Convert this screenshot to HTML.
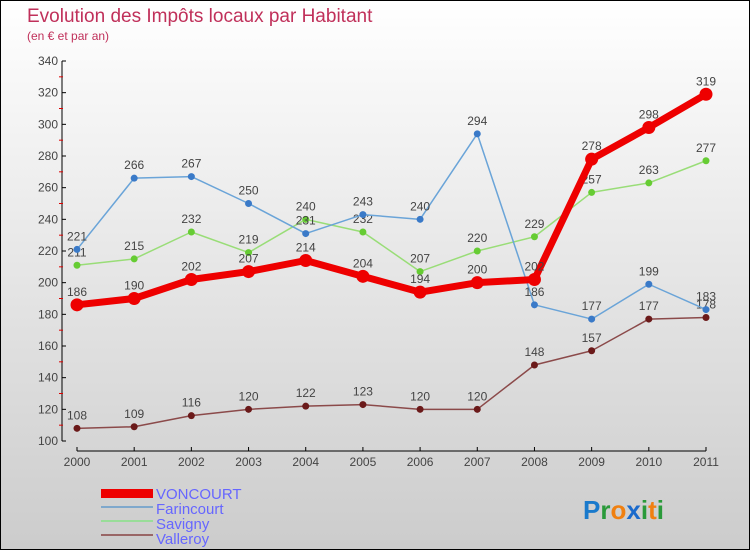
<!DOCTYPE html>
<html><head><meta charset="utf-8"><style>
body{margin:0;}
#c{width:748px;height:548px;border:1px solid #000;background:linear-gradient(#fff,#ccc);position:relative;overflow:hidden;font-family:"Liberation Sans",sans-serif;}
</style></head><body>
<div id="c">
<svg id="s" width="748" height="548" style="position:absolute;left:0;top:0">
<text x="26" y="21" font-size="19" fill="#c0305a">Evolution des Impôts locaux par Habitant</text>
<text x="26" y="39" font-size="12" fill="#c0305a">(en € et par an)</text>
<g id="axes"></g><g id="series"></g>
<g>
<rect x="100" y="488" width="52" height="9" fill="#e00"/>
<text x="155" y="498" font-size="15" fill="#66f">VONCOURT</text>
<rect x="100" y="505" width="52" height="2" fill="#7fa8cc"/>
<text x="155" y="513" font-size="15" fill="#66f">Farincourt</text>
<rect x="100" y="519" width="52" height="2" fill="#9d9"/>
<text x="155" y="528" font-size="15" fill="#66f">Savigny</text>
<rect x="100" y="533" width="52" height="2" fill="#966"/>
<text x="155" y="543" font-size="15" fill="#66f">Valleroy</text>
</g>
<text x="582" y="518" font-size="26" font-weight="bold"><tspan fill="#1a7acc">P</tspan><tspan fill="#2a9a3a">r</tspan><tspan fill="#f08010">o</tspan><tspan fill="#1a6acc">x</tspan><tspan fill="#2a9a3a">i</tspan><tspan fill="#f08010">t</tspan><tspan fill="#2a9a3a">i</tspan></text>
</svg>
</div>
<script>
const years=[2000,2001,2002,2003,2004,2005,2006,2007,2008,2009,2010,2011];
const voncourt=[186,190,202,207,214,204,194,200,202,278,298,319];
const farincourt=[221,266,267,250,231,243,240,294,186,177,199,183];
const savigny=[211,215,232,219,240,232,207,220,229,257,263,277];
const valleroy=[108,109,116,120,122,123,120,120,148,157,177,178];
const yTicks=[100,120,140,160,180,200,220,240,260,280,300,320,340];
const NS="http://www.w3.org/2000/svg";
function X(i){return 76+i*(705-76)/11;}
function Y(v){return 440-(v-100)*380/240;}
function mk(t,a,p){const e=document.createElementNS(NS,t);for(const k in a)e.setAttribute(k,a[k]);p.appendChild(e);return e;}
const ax=document.getElementById('axes');
const yl=mk('line',{x1:61,y1:60,x2:61,y2:440,stroke:'#000'},ax);


const xl=mk('line',{x1:76,y1:450,x2:705,y2:450,stroke:'#000'},ax);


yTicks.forEach(v=>{
 mk('line',{x1:61,y1:Y(v),x2:65,y2:Y(v),stroke:'#000'},ax);
 if(v<340)mk('line',{x1:58,y1:Y(v+10),x2:62,y2:Y(v+10),stroke:'#d00'},ax);
 const t=mk('text',{x:57,y:Y(v)+4,'font-size':12,'text-anchor':'end',fill:'#444'},ax);t.textContent=v;
 
 
});
years.forEach((y,i)=>{
 mk('line',{x1:X(i),y1:446,x2:X(i),y2:450,stroke:'#000'},ax);
 const t=mk('text',{x:X(i),y:465,'font-size':12,'text-anchor':'middle',fill:'#444'},ax);t.textContent=y;
 
 
});
const sg=document.getElementById('series');
function series(name,data,color,w,r,dot){
 const g=mk('g',{},sg);
 
 
 mk('polyline',{points:data.map((v,i)=>X(i)+','+Y(v)).join(' '),fill:'none',stroke:color,'stroke-width':w,'stroke-linejoin':'round'},g);
 data.forEach((v,i)=>{
  const c=mk('circle',{cx:X(i),cy:Y(v),r:r,fill:dot},g);
  
  
  const t=mk('text',{x:X(i),y:Y(v)-9,'font-size':12,'text-anchor':'middle',fill:'#444'},g);t.textContent=v;
  
  
 });
}
series('valleroy',valleroy,'#8b4a4a',1.5,3.5,'#6b1a1a');
series('savigny',savigny,'#99dd77',1.5,3.5,'#66cc33');
series('farincourt',farincourt,'#6aa4d8',1.5,3.5,'#3a7ac8');
series('voncourt',voncourt,'#ee0000',7,6.5,'#ee0000');
</script>
</body></html>
